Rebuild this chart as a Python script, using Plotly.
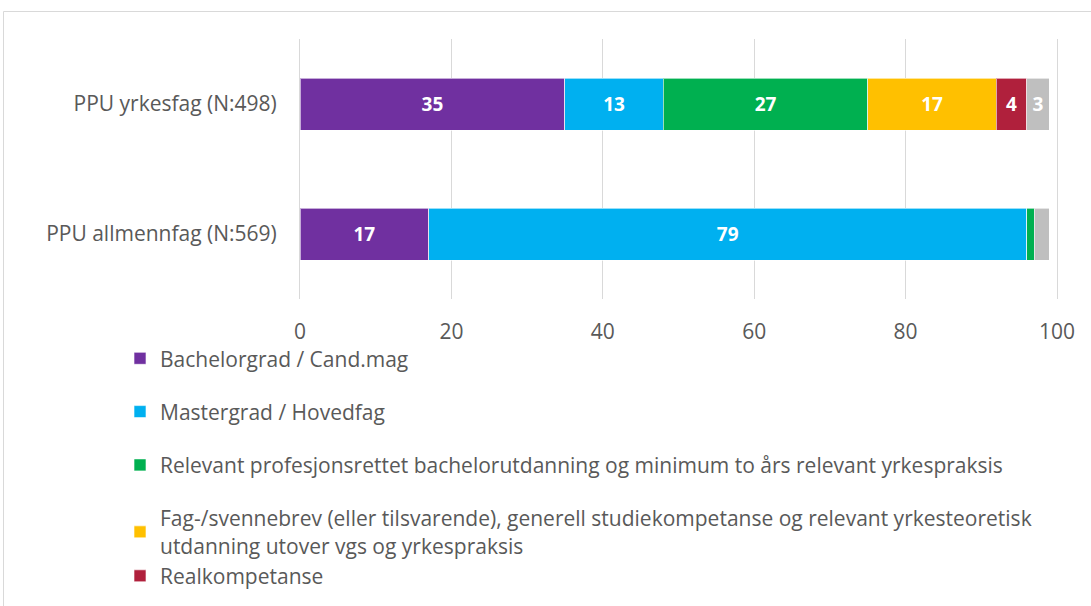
import plotly.graph_objects as go

categories = ["PPU yrkesfag (N:498)", "PPU allmennfag (N:569)"]
series_names = [
    "Bachelorgrad / Cand.mag",
    "Mastergrad / Hovedfag",
    "Relevant profesjonsrettet bachelorutdanning og minimum to års relevant yrkespraksis",
    "Fag-/svennebrev (eller tilsvarende), generell studiekompetanse og relevant yrkesteoretisk<br>utdanning utover vgs og yrkespraksis",
    "Realkompetanse",
    "Annet",
]
bachelor = [35, 17]
master = [13, 79]
relevant = [27, 1]
fagbrev = [17, 0]
realkomp = [4, 0]
annet = [3, 2]
series_values = [bachelor, master, relevant, fagbrev, realkomp, annet]
colors = ["#7030A0", "#00B0F0", "#00B050", "#FFC000", "#B0203C", "#BFBFBF"]
groups = ["g1", "g2", "g3", "g4", "g4", "g5"]
show_legend = [True, True, True, True, True, False]
tick_vals = [0, 20, 40, 60, 80, 100]

FONT = "Open Sans"
fig = go.Figure()
for name, vals, col, grp, sl in zip(series_names, series_values, colors, groups, show_legend):
    fig.add_trace(go.Bar(
        y=categories, x=vals, name=name, orientation="h",
        marker=dict(color=col, line=dict(color="rgba(255,255,255,0.6)", width=1)),
        text=[str(v) if v >= 3 else "" for v in vals],
        textposition="inside", insidetextanchor="middle", textangle=0,
        constraintext="none",
        textfont=dict(family=FONT, size=19, color="white", weight="bold"),
        legendgroup=grp, showlegend=sl, width=0.4,
    ))

PLOT_W = 1091 - 300 - 34
fig.update_layout(
    width=1091, height=606,
    barmode="stack",
    plot_bgcolor="white", paper_bgcolor="white",
    margin=dict(l=300, r=34, t=39, b=307, autoexpand=False),
    font=dict(family=FONT, size=21, color="#595959"),
    xaxis=dict(range=[0, 100], tickvals=tick_vals, showgrid=True, gridcolor="#D9D9D9",
               gridwidth=1, zeroline=False, showline=False, ticks="",
               ticklabelstandoff=18, tickfont=dict(size=21, color="#595959")),
    yaxis=dict(categoryorder="array", categoryarray=categories[::-1], range=[-0.5, 1.5],
               showgrid=False, zeroline=False, ticks="", ticklabelstandoff=18,
               showline=True, mirror=True, linecolor="#D9D9D9", linewidth=1,
               tickfont=dict(size=21, color="#595959")),
    legend=dict(orientation="v", xref="container", yref="container", x=0.110, y=0.442,
                xanchor="left", yanchor="top", traceorder="grouped", tracegroupgap=23,
                font=dict(size=21, color="#595959"), itemwidth=30, bgcolor="rgba(0,0,0,0)"),
    shapes=[dict(type="rect", xref="paper", yref="paper",
                 x0=(3.5 - 300) / PLOT_W, x1=1.2, y0=-3, y1=1 + (39 - 11.5) / 260,
                 line=dict(color="#D9D9D9", width=1), layer="below")],
    showlegend=True,
)
fig.write_html("out.html", config={"displayModeBar": False},
               post_script="document.body.style.margin='0';document.body.style.overflow='hidden';")
